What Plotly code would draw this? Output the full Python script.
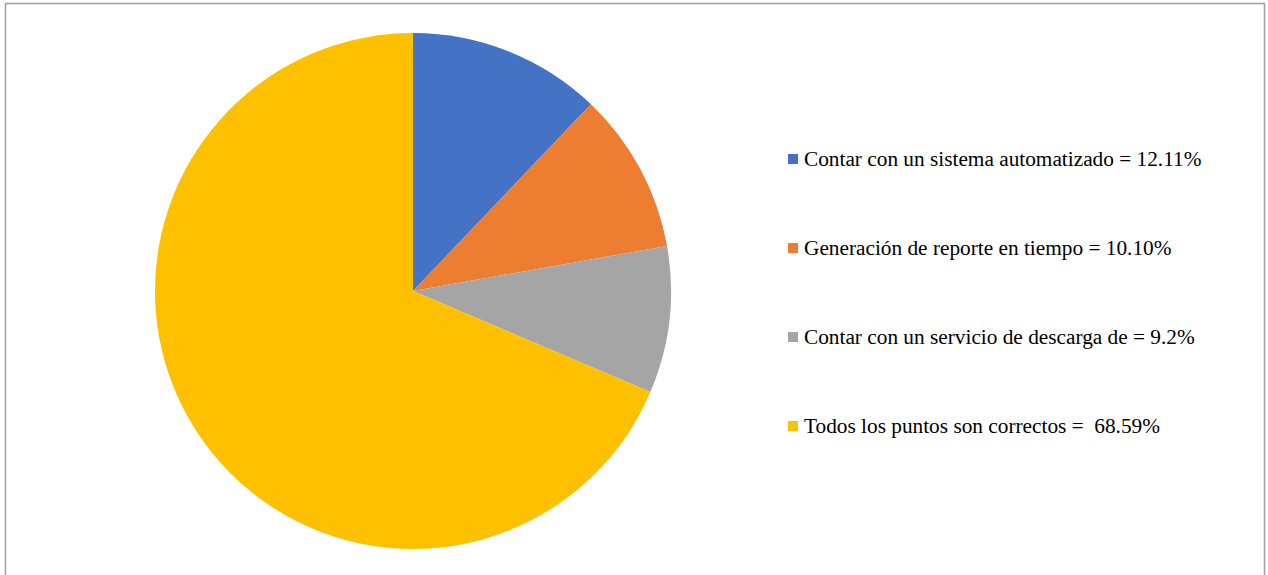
import plotly.graph_objects as go

# Survey results: share of responses per option
labels = [
    "Contar con un sistema automatizado = 12.11%",
    "Generación de reporte en tiempo = 10.10%",
    "Contar con un servicio de descarga de = 9.2%",
    "Todos los puntos son correctos =  68.59%",
]
values = [12.11, 10.10, 9.2, 68.59]
colors = ["#4472C4", "#ED7D31", "#A5A5A5", "#FFC000"]

W, H = 1268, 575

fig = go.Figure()
fig.add_trace(go.Pie(
    labels=labels,
    values=values,
    sort=False,
    direction="clockwise",
    rotation=0,
    textinfo="none",
    hoverinfo="label",
    marker=dict(colors=colors, line=dict(width=0)),
    domain=dict(x=[155 / W, 671 / W], y=[(H - 549) / H, (H - 33) / H]),
    showlegend=False,
))

# Legend drawn as colour swatches plus text labels
legend_x = 788
legend_y0 = 159
legend_step = 89
shapes = []
annotations = []
for i, (lab, col) in enumerate(zip(labels, colors)):
    yc = legend_y0 + i * legend_step
    shapes.append(dict(
        type="rect", xref="paper", yref="paper",
        x0=legend_x / W, x1=(legend_x + 10) / W,
        y0=1 - (yc + 5) / H, y1=1 - (yc - 5) / H,
        fillcolor=col, line=dict(width=0),
    ))
    annotations.append(dict(
        x=(legend_x + 14) / W, y=1 - yc / H,
        xref="paper", yref="paper",
        xanchor="left", yanchor="middle",
        text=lab, showarrow=False,
        font=dict(family="Times New Roman, Liberation Serif, serif", size=21.3, color="#000000"),
    ))

# Chart frame
shapes.append(dict(
    type="rect", xref="paper", yref="paper",
    x0=5.5 / W, x1=1264.5 / W, y0=-0.05, y1=1 - 3.5 / H,
    line=dict(color="#A0A0A0", width=1.5), fillcolor="rgba(0,0,0,0)",
))

fig.update_layout(
    width=W, height=H,
    margin=dict(l=0, r=0, t=0, b=0),
    paper_bgcolor="white",
    plot_bgcolor="white",
    shapes=shapes,
    annotations=annotations,
)

fig.write_html("out.html")
